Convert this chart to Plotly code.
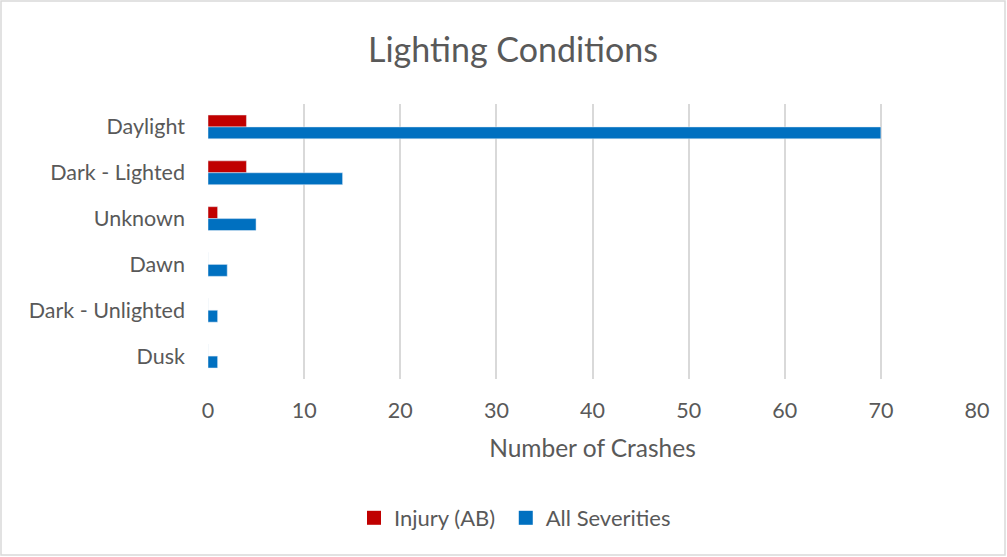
import plotly.graph_objects as go

categories = ["Daylight", "Dark - Lighted", "Unknown", "Dawn", "Dark - Unlighted", "Dusk"]
injury_ab = [4, 4, 1, 0, 0, 0]
all_severities = [70, 14, 5, 2, 1, 1]
x_ticks = [0, 10, 20, 30, 40, 50, 60, 70, 80]
series_names = ["Injury (AB)", "All Severities"]

FONT = "Lato"
GREY = "#595959"
RED = "#C00000"
BLUE = "#0070C0"

fig = go.Figure()
fig.add_trace(go.Bar(y=categories, x=injury_ab, orientation="h", name=series_names[0],
                     marker_color=RED, showlegend=False))
fig.add_trace(go.Bar(y=categories, x=all_severities, orientation="h", name=series_names[1],
                     marker_color=BLUE, showlegend=False))
# legend entries with larger square swatches
for nm, col in [(series_names[0] + "\u00a0", RED), (series_names[1], BLUE)]:
    fig.add_trace(go.Scatter(x=[None], y=[None], mode="markers", name=nm,
                             marker=dict(symbol="square", size=14, color=col)))

L, R, T, B = 208, 30, 104, 178
W, H = 1007, 557
pw = W - L - R
ph = H - T - B

fig.update_layout(
    width=W, height=H,
    margin=dict(l=L, r=R, t=T, b=B, autoexpand=False),
    paper_bgcolor="white", plot_bgcolor="white",
    barmode="group", bargap=0.48, bargroupgap=0,
    font=dict(family=FONT, color=GREY, size=21),
    title=dict(text="Lighting Conditions", x=513 / W, xanchor="center",
               y=1 - 50 / H, yanchor="middle", font=dict(size=34, color=GREY, family=FONT)),
    xaxis=dict(range=[0, 80], tickvals=x_ticks, showgrid=True, gridcolor="#d9d9d9",
               gridwidth=1.5, zeroline=False, showline=False, ticks="",
               automargin=False, ticklabelstandoff=16,
               tickfont=dict(size=21.5, color=GREY),
               title=dict(text="Number of Crashes", font=dict(size=24.5, color=GREY), standoff=18)),
    yaxis=dict(autorange="reversed", showgrid=False, zeroline=False, showline=False,
               automargin=False,
               ticks="", ticklabelstandoff=22, tickfont=dict(size=21.5, color=GREY)),
    showlegend=True,
    legend=dict(orientation="h", traceorder="normal", x=(515 - L) / pw,
                xanchor="center", y=-(518 - (H - B)) / ph, yanchor="middle",
                font=dict(size=22, color=GREY), itemwidth=30, itemsizing="trace"),
)
fig.add_shape(type="rect", xref="paper", yref="paper",
              x0=(1 - L) / pw, x1=(1005 - L) / pw,
              y0=-(555 - (H - B)) / ph, y1=((H - B) - 1) / ph,
              line=dict(color="#d9d9d9", width=1.5), layer="below")

fig.write_html("out.html")
